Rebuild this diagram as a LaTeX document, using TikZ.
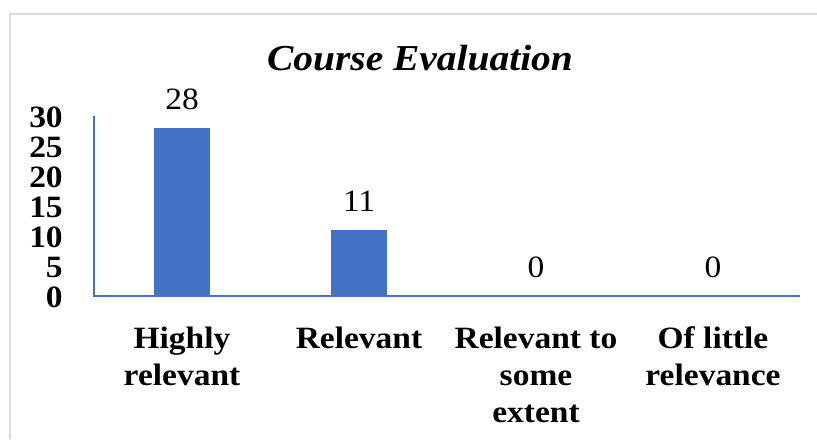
\documentclass[tikz,border=0pt]{standalone}
\usepackage{fontspec}
\setmainfont{Liberation Serif}
\newfontfamily\labfont[FakeStretch=1.08]{Liberation Serif}
\definecolor{barblue}{HTML}{4472C4}
\definecolor{frame}{HTML}{D9D9D9}
\tikzset{
  px/.style={x=0.75pt,y=-0.75pt},
  catlabel/.style={anchor=base, align=center, inner sep=0pt,
    font=\labfont\bfseries\fontsize{23.25}{27.75}\selectfont},
  ticklabel/.style={anchor=east, inner sep=0pt,
    font=\labfont\bfseries\fontsize{23.25}{27.75}\selectfont},
  vallabel/.style={anchor=center, inner sep=0pt,
    font=\labfont\fontsize{23.25}{27.75}\selectfont},
  bar/.style={fill=barblue, draw=none},
  axisline/.style={draw=barblue, line width=1.2pt},
}
\begin{document}
\begin{tikzpicture}[px]
\useasboundingbox (0,0) rectangle (817,439);
\fill[white] (0,0) rectangle (817,439);
% frame
\draw[frame, line width=1.5pt] (10,439) -- (10,14) -- (817,14);
% title
\node[anchor=base, inner sep=0pt, font=\labfont\bfseries\itshape\fontsize{27.4}{32}\selectfont] (title) at (420,70) {Course Evaluation};
% bars
\fill[bar] (154,296) rectangle (210,128);
\fill[bar] (331,296) rectangle (387,230);
% axes
\coordinate (o) at (94,296);
\coordinate (ytop) at (94,116);
\coordinate (xend) at (800,296);
\draw[axisline] (ytop) -- (o) -- (xend);
% tick labels
\foreach \v in {0,5,10,15,20,25,30} {
  \node[ticklabel] (t\v) at (63,{296-6*\v+1}) {\v};
}
% value labels
\node[vallabel] (v1) at (182,99) {28};
\node[vallabel] (v2) at (359,201) {11};
\node[vallabel] (v3) at (536,267) {0};
\node[vallabel] (v4) at (713,267) {0};
% category labels (anchor = baseline of the last line)
\node[catlabel] (c1) at (182,385) {Highly\\relevant};
\node[catlabel] (c2) at (359,348) {Relevant};
\node[catlabel] (c3) at (536,422) {Relevant to\\some\\extent};
\node[catlabel] (c4) at (713,385) {Of little\\relevance};
\end{tikzpicture}
\end{document}
